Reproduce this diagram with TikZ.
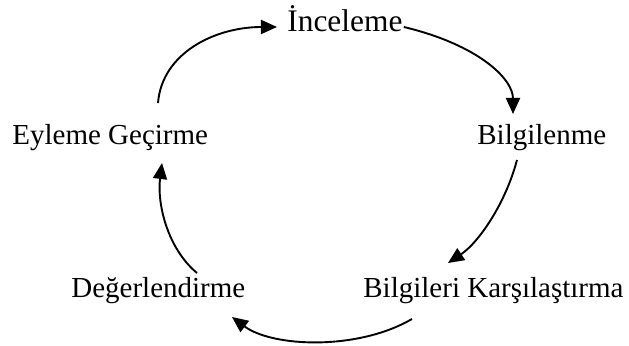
\documentclass[tikz,border=0pt]{standalone}
\usepackage{fontspec}
\setmainfont{Liberation Serif}
\usetikzlibrary{arrows.meta}
\begin{document}
\begin{tikzpicture}[x=0.5pt,y=-0.5pt,
  lbl/.style={anchor=base west,inner sep=0pt,font=\fontsize{14.5pt}{17pt}\selectfont},
  conn/.style={line width=0.95pt,-{Triangle[length=8pt,width=7pt]}}]
\useasboundingbox (0,0) rectangle (629,346);
\node[lbl,font=\fontsize{15.7pt}{18pt}\selectfont] (in) at (287,32) {İnceleme};
\node[lbl] (bi) at (477,145) {Bilgilenme};
\node[lbl] (ey) at (12,145) {Eyleme Geçirme};
\node[lbl] (de) at (71,298) {Değerlendirme};
\node[lbl] (bk) at (363,298) {Bilgileri Karşılaştırma};
\draw[conn] ([shift={(146,-42)}]ey.base west) .. controls +(4,-50) and +(-62,0) .. ([shift={(-10,-5)}]in.base west);
\draw[conn] ([shift={(1,-5)}]in.base east) .. controls +(75,18) and +(0,-35) .. ([shift={(36,-31)}]bi.base west);
\draw[conn] ([shift={(40,15)}]bi.base west) .. controls +(-12,45) and +(30,-20) .. ([shift={(85,-35)}]bk.base west);
\draw[conn] ([shift={(49,21)}]bk.base west) .. controls +(-55,32) and +(40,30) .. ([shift={(161,19)}]de.base west);
\draw[conn] ([shift={(126,-25)}]de.base west) .. controls +(-30,-25) and +(-5,40) .. ([shift={(150,18)}]ey.base west);
\end{tikzpicture}
\end{document}
